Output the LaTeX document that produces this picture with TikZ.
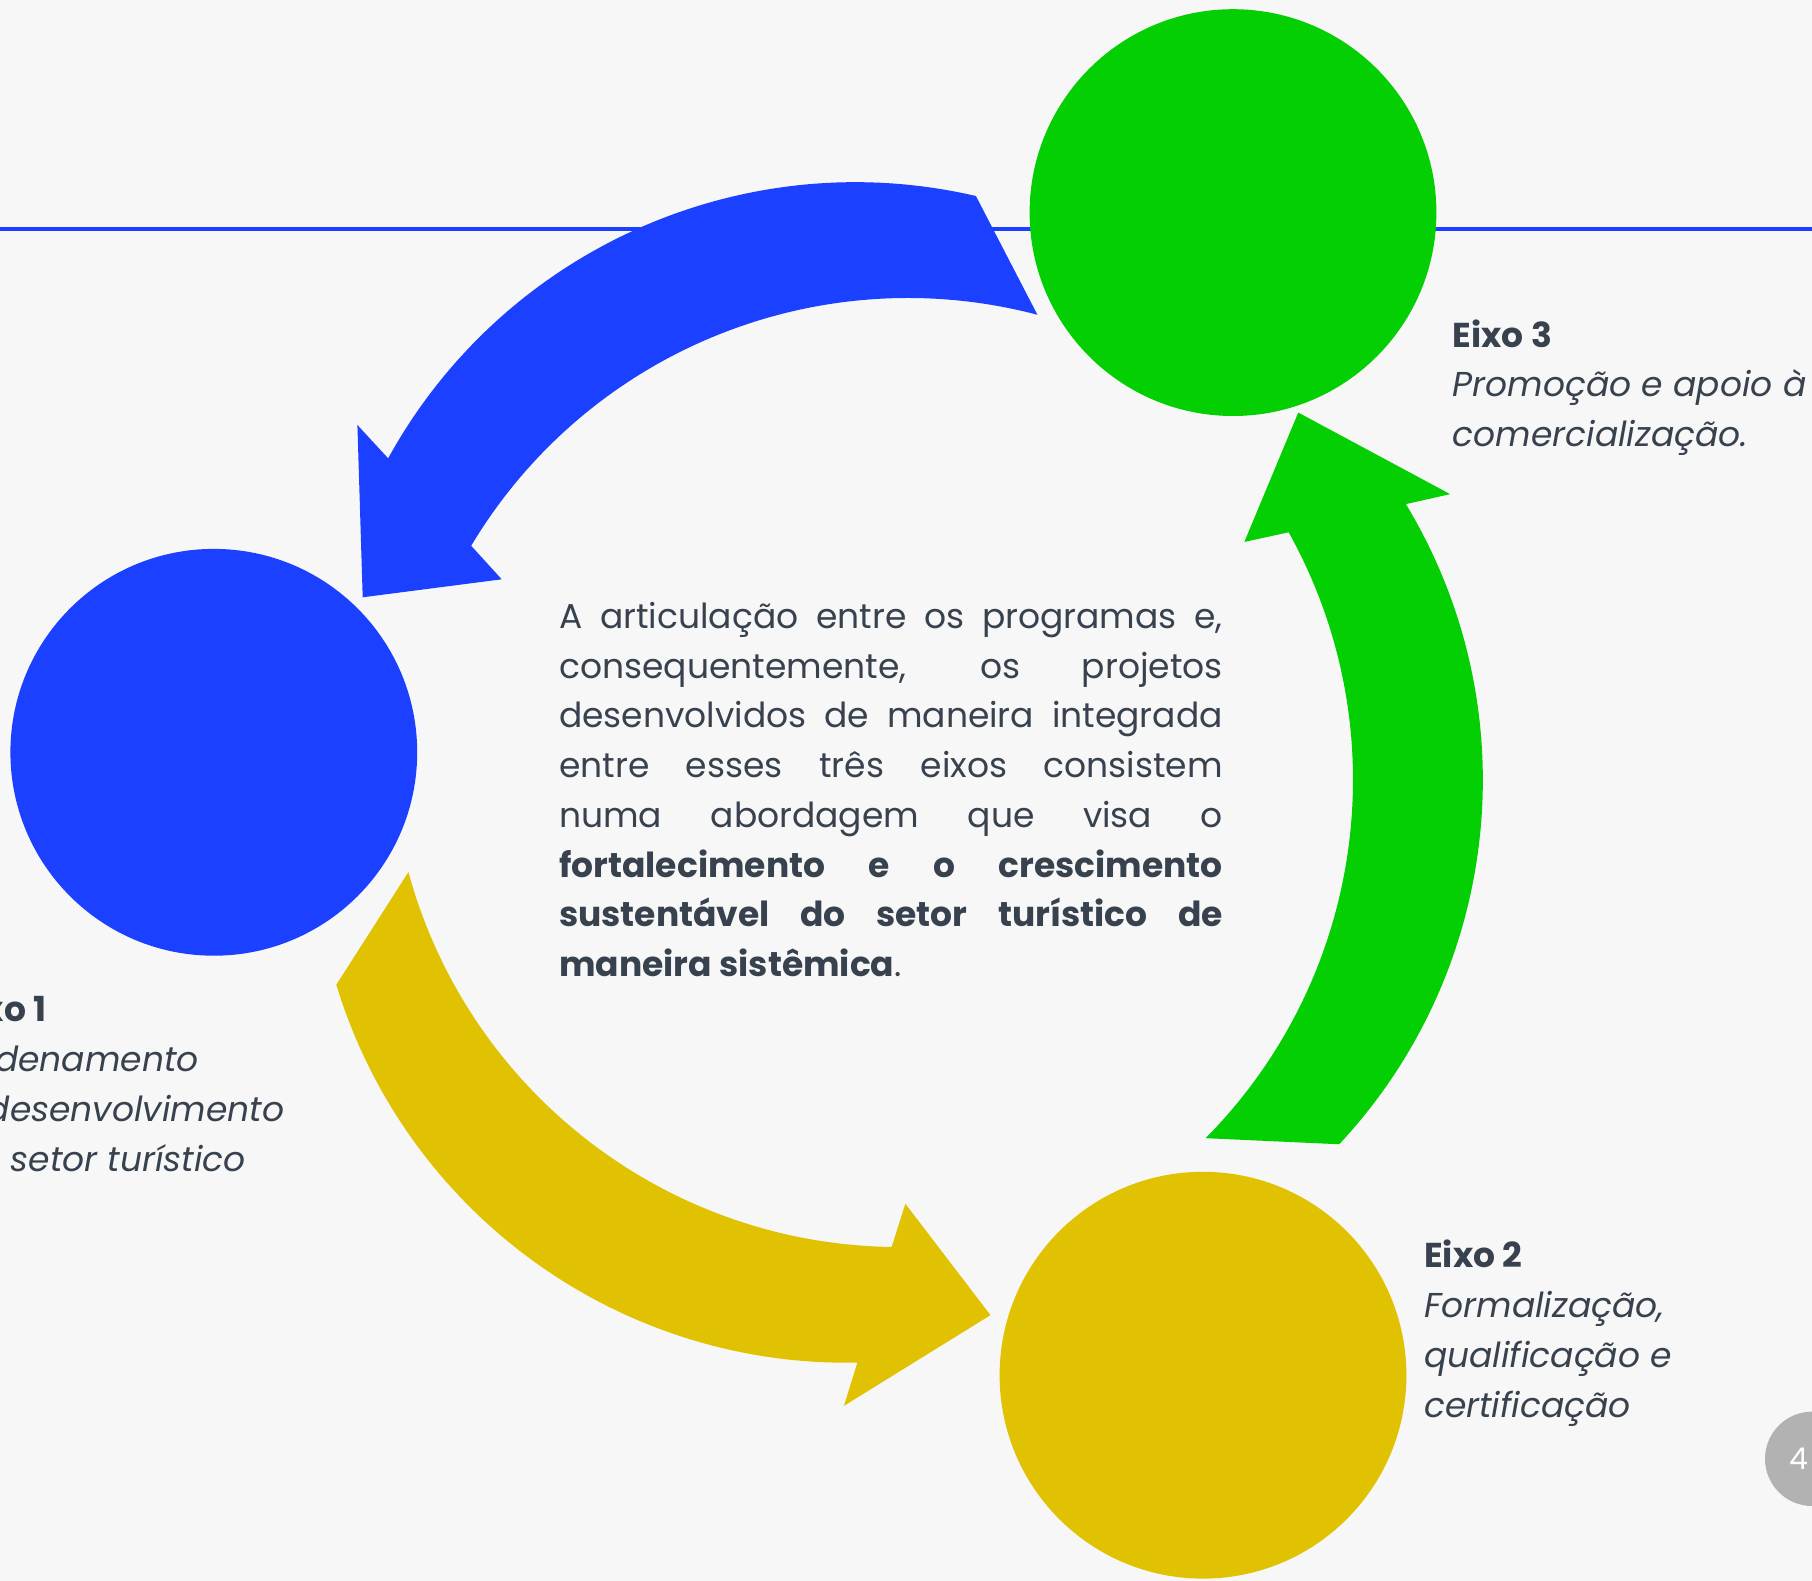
\documentclass[tikz,border=0pt]{standalone}
\usepackage{fontspec}
\setmainfont{Poppins}
\definecolor{bgc}{HTML}{F7F7F7}
\definecolor{eblue}{HTML}{1B40FF}
\definecolor{egreen}{HTML}{03CF03}
\definecolor{eyellow}{HTML}{E0C203}
\definecolor{txt}{HTML}{37424E}
\definecolor{pgray}{HTML}{B2B2B2}
\newcommand\jline[1]{\makebox[663.6pt][s]{#1}}
\tikzset{
  pics/cyclearrow/.style={code={
    \fill[#1] (92.1,-579) arc[start angle=-76.94, end angle=-151.16, radius=533.4]
      -- (-526.4,-350) -- (-521.1,-177.7) -- (-382.1,-195.7)
      -- ([shift={(-149.12:509)}]24.2,32)
      arc[start angle=-149.12, end angle=-75.27, radius=509] -- cycle;}},
  eixo/.style={circle, fill=#1, draw=none, minimum size=406.8pt, inner sep=0pt},
  lbl/.style={anchor=north west, align=left, inner sep=0pt, text=txt,
    font=\fontsize{34.5}{49.7}\selectfont},
}
\begin{document}
\begin{tikzpicture}[x=1pt, y=1pt, yscale=-1]
\useasboundingbox (0,0) rectangle (1812,1581);
\clip (0,0) rectangle (1812,1581);
\fill[bgc] (0,0) rectangle (1812,1581);
\coordinate (lineL) at (0,228.8);
\coordinate (lineR) at (1812,228.8);
\draw[eblue, line width=4pt] (lineL) -- (lineR);
\coordinate (C) at (883.8,775);
\pic[transform shape] at (C) {cyclearrow=eblue};
\pic[transform shape, rotate=120] at (C) {cyclearrow=egreen};
\pic[transform shape, rotate=-120] at (C) {cyclearrow=eyellow};
\node[eixo=eblue] (e1) at (213.8,752.3) {};
\node[eixo=egreen] (e3) at (1233,212.6) {};
\node[eixo=eyellow] (e2) at (1203,1375.2) {};
\node[lbl] (body) at (559,598.3) {\rule{0pt}{30pt}\jline{A articulação entre os programas e,}\\
\jline{consequentemente, os projetos}\\
\jline{desenvolvidos de maneira integrada}\\
\jline{entre esses três eixos consistem}\\
\jline{numa abordagem que visa o}\\
\jline{\bfseries fortalecimento e o crescimento}\\
\jline{\bfseries sustentável do setor turístico de}\\
{\bfseries maneira sistêmica}.};
\node[lbl] (t3) at (1452.6,317) {\rule{0pt}{30pt}\textbf{Eixo 3}\\ \textit{Promoção e apoio à}\\ \textit{comercialização.}};
\node[lbl] (t2) at (1424,1237.7) {\rule{0pt}{30pt}\textbf{Eixo 2}\\ \textit{Formalização,}\\ \textit{qualificação e}\\ \textit{certificação}};
\node[lbl, anchor=north east] (t1) at (284.5,991.7) {\rule{0pt}{30pt}\textbf{Eixo 1}\\ \textit{Ordenamento}\\ \textit{e desenvolvimento}\\ \textit{do setor turístico}};
\node[circle, fill=pgray, minimum size=94.4pt, inner sep=0pt] (pg) at (1812.2,1458.8) {};
\node[text=white, font=\fontsize{30}{36}\selectfont, inner sep=0pt] (pgnum) at (1799,1458.8) {4};
\end{tikzpicture}
\end{document}
